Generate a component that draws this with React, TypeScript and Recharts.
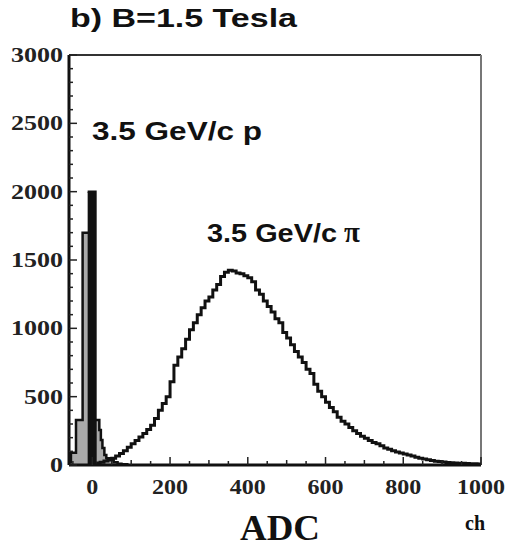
import React from 'react';
import { ComposedChart, Area, Line, XAxis, YAxis, ReferenceLine } from 'recharts';

// ---- axis ticks ----
const xTicks = [-50, 0, 50, 100, 150, 200, 250, 300, 350, 400, 450, 500, 550, 600, 650, 700, 750, 800, 850, 900, 950, 1000];
const xLabelled = [0, 200, 400, 600, 800, 1000];
const yTicks = [0, 100, 200, 300, 400, 500, 600, 700, 800, 900, 1000, 1100, 1200, 1300, 1400, 1500, 1600, 1700, 1800, 1900, 2000, 2100, 2200, 2300, 2400, 2500, 2600, 2700, 2800, 2900, 3000];
const yLabelled = [0, 500, 1000, 1500, 2000, 2500, 3000];

// ---- proton (3.5 GeV/c p), filled grey histogram: bin left edges and counts ----
const protonEdges = [-60, -55, -42, -25, 0, 18, 22, 26, 31, 36, 45, 55, 65, 75, 90];
const protonCounts = [20, 90, 330, 1700, 330, 256, 183, 124, 73, 50, 35, 20, 10, 5, 0];

// ---- pion pedestal column (black) ----
const pedestalEdges = [-12, 8];
const pedestalCounts = [2000, 0];

// ---- pion (3.5 GeV/c pi), 10-channel bins starting at channel 10 ----
const PION_FIRST_BIN = 10;
const PION_BIN_WIDTH = 10;
const pionCounts = [
  15, 20, 30, 40, 50, 65, 85, 105, 130, 155,
  180, 205, 230, 260, 290, 340, 400, 450, 500, 610,
  730, 790, 850, 920, 990, 1040, 1100, 1150, 1200, 1230,
  1280, 1320, 1380, 1410, 1425, 1420, 1405, 1400, 1385, 1370,
  1340, 1280, 1250, 1200, 1160, 1120, 1070, 1040, 970, 930,
  880, 830, 790, 750, 700, 670, 590, 540, 500, 460,
  420, 390, 350, 320, 300, 275, 250, 230, 210, 195,
  180, 165, 155, 140, 125, 115, 105, 95, 88, 80,
  73, 65, 57, 50, 44, 38, 33, 28, 25, 22,
  19, 17, 15, 13, 12, 11, 10, 9, 8, 0,
];

const protonData = protonEdges.map((x, i) => ({ x, v: protonCounts[i] }));
const pedestalData = pedestalEdges.map((x, i) => ({ x, v: pedestalCounts[i] }));
const pionData = pionCounts.map((v, i) => ({ x: PION_FIRST_BIN + i * PION_BIN_WIDTH, v }));

const serif = '"Liberation Serif", "Times New Roman", serif';
const sans = '"Liberation Sans", Arial, sans-serif';

const YTick = (props: any) => {
  const { x, y, payload } = props;
  const major = yLabelled.includes(payload.value);
  const label = String(payload.value);
  return (
    <g>
      <line x1={x} x2={x + (major ? 8 : 4)} y1={y} y2={y} stroke="#222" strokeWidth={1.5} />
      {major && (
        <text x={x - 6} y={y + 7} textAnchor="end" fontFamily={serif} fontWeight="bold" fontSize={21} fill="#222"
          textLength={label.length * 13} lengthAdjust="spacingAndGlyphs">
          {label}
        </text>
      )}
    </g>
  );
};

const XTick = (props: any) => {
  const { x, y, payload } = props;
  const major = xLabelled.includes(payload.value);
  const len = major ? 8 : payload.value % 100 === 0 ? 5 : 4;
  const label = String(payload.value);
  return (
    <g>
      <line x1={x} x2={x} y1={y} y2={y - len} stroke="#222" strokeWidth={1.5} />
      {major && (
        <text x={x} y={y + 29} textAnchor="middle" fontFamily={serif} fontWeight="bold" fontSize={22} fill="#222"
          textLength={label.length * 12} lengthAdjust="spacingAndGlyphs">
          {label}
        </text>
      )}
    </g>
  );
};

export default function App() {
  return (
    <div style={{ position: 'absolute', left: 0, top: 0, width: 510, height: 548, background: '#fff' }}>
      <ComposedChart width={510} height={548} margin={{ top: 55, right: 29, bottom: 53, left: 9 }}>
        <XAxis
          type="number"
          dataKey="x"
          domain={[-60, 1000]}
          ticks={xTicks}
          interval={0}
          allowDataOverflow
          tickSize={0}
          tickMargin={0}
          tick={<XTick />}
          tickLine={false}
          axisLine={{ stroke: '#111', strokeWidth: 3 }}
          height={30}
        />
        <YAxis
          type="number"
          dataKey="v"
          domain={[0, 3000]}
          ticks={yTicks}
          interval={0}
          allowDataOverflow
          tickSize={0}
          tickMargin={0}
          tick={<YTick />}
          tickLine={false}
          axisLine={{ stroke: '#111', strokeWidth: 3 }}
          width={60}
        />
        <ReferenceLine y={3000} stroke="#333" strokeWidth={2} ifOverflow="visible" />
        <ReferenceLine x={1000} stroke="#777" strokeWidth={2} ifOverflow="visible" />
        <Area
          data={protonData}
          dataKey="v"
          type="stepAfter"
          stroke="#111"
          strokeWidth={2.5}
          fill="#aaaaaa"
          fillOpacity={1}
          isAnimationActive={false}
          dot={false}
          activeDot={false}
        />
        <Area
          data={pedestalData}
          dataKey="v"
          type="stepAfter"
          stroke="#111"
          strokeWidth={2.5}
          fill="#111"
          fillOpacity={1}
          isAnimationActive={false}
          dot={false}
          activeDot={false}
        />
        <Line
          data={pionData}
          dataKey="v"
          type="stepAfter"
          stroke="#111"
          strokeWidth={3}
          dot={false}
          activeDot={false}
          isAnimationActive={false}
        />
      </ComposedChart>
      <svg width={510} height={548} style={{ position: 'absolute', left: 0, top: 0, pointerEvents: 'none' }}>
        <text x={70} y={27} fontFamily={sans} fontWeight="bold" fontSize={25} fill="#111" textLength={227} lengthAdjust="spacingAndGlyphs">
          b) B=1.5 Tesla
        </text>
        <text x={92} y={140} fontFamily={sans} fontWeight="bold" fontSize={25} fill="#111" textLength={170} lengthAdjust="spacingAndGlyphs">
          3.5 GeV/c p
        </text>
        <text x={207} y={242} fontFamily={sans} fontWeight="bold" fontSize={25} fill="#111" textLength={130} lengthAdjust="spacingAndGlyphs">
          3.5 GeV/c
        </text>
        <text x={344} y={242} fontFamily={serif} fontWeight="bold" fontSize={29} fill="#111">
          π
        </text>
        <text x={280} y={540} textAnchor="middle" fontFamily={serif} fontWeight="bold" fontSize={36} fill="#111" textLength={80} lengthAdjust="spacingAndGlyphs">
          ADC
        </text>
        <text x={475} y={530} textAnchor="middle" fontFamily={serif} fontWeight="bold" fontSize={20} fill="#111">
          ch
        </text>
      </svg>
    </div>
  );
}
